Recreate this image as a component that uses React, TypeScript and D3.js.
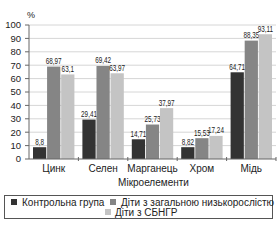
import React from "react";
import * as d3 from "d3";

const categories = ["Цинк", "Селен", "Марганець", "Хром", "Мідь"];
const seriesNames = ["Контрольна група", "Діти з загальною низькорослістю", "Діти з СБНГР"];
const control = [8.8, 29.41, 14.71, 8.82, 64.71];
const general = [68.97, 69.42, 25.73, 15.53, 88.35];
const sbngr = [63.1, 63.97, 37.97, 17.24, 93.11];
const yTicks = [0, 10, 20, 30, 40, 50, 60, 70, 80, 90, 100];
const colors = ["#333333", "#858585", "#c4c4c4"];

const fmt = (v: number) => String(v).replace(".", ",");

export default function App() {
  const W = 280, H = 240;
  const left = 29, right = 276, top = 25, bottom = 159;
  const x = d3.scaleBand<string>().domain(categories).range([left, right]).paddingInner(0).paddingOuter(0);
  const y = d3.scaleLinear().domain([0, 100]).range([bottom, top]);
  const series = [control, general, sbngr];
  const inner = d3.scaleBand<number>().domain([0, 1, 2]).range([4, x.bandwidth() - 4]).paddingInner(0.06);
  const font = "'Liberation Sans', Arial, sans-serif";
  return (
    <svg width={W} height={H} style={{ position: "absolute", left: 0, top: 0, background: "#fff" }} fontFamily={font}>
      <rect x={0} y={0} width={W} height={H} fill="#fff" />
      {yTicks.map((t) => (
        <g key={t}>
          {t > 0 && <line x1={left} x2={right} y1={y(t)} y2={y(t)} stroke="#d6d6d6" strokeWidth={1} />}
          <line x1={left - 4} x2={left} y1={y(t)} y2={y(t)} stroke="#666" />
          <text x={left - 8} y={y(t)} dy="0.35em" textAnchor="end" fontSize={9.5} fill="#222">{t}</text>
        </g>
      ))}
      <text x={left - 2} y={top - 7} fontSize={9} fill="#222">%</text>
      {categories.map((c, i) => (
        <g key={c}>
          {series.map((s, j) => {
            const bx = (x(c) as number) + (inner(j) as number);
            const bw = inner.bandwidth();
            return (
              <g key={j}>
                <rect x={bx} y={y(s[i])} width={bw} height={bottom - y(s[i])} fill={colors[j]} />
                <text transform={`translate(${bx + bw / 2},${y(s[i]) - 2.5}) scale(0.72,1)`} textAnchor="middle" fontSize={8.8} fill="#222">{fmt(s[i])}</text>
              </g>
            );
          })}
          <text x={(x(c) as number) + x.bandwidth() / 2} y={bottom + 13} textAnchor="middle" fontSize={10} fill="#222">{c}</text>
        </g>
      ))}
      <line x1={left} x2={left} y1={top} y2={bottom} stroke="#666" />
      <line x1={left} x2={right} y1={bottom} y2={bottom} stroke="#666" />
      {categories.map((c, i) => {
        const bx = x(c) as number;
        return i > 0 ? <line key={c} x1={bx} x2={bx} y1={bottom - 2} y2={bottom + 2} stroke="#666" /> : null;
      })}
      <line x1={right} x2={right} y1={bottom - 2} y2={bottom + 2} stroke="#666" />
      <text x={(left + right) / 2 + 1} y={bottom + 27} textAnchor="middle" fontSize={10} fill="#222">Мікроелементи</text>
      <rect x={4.5} y={195.5} width={268} height={23} fill="#fff" stroke="#555" />
      <rect x={11} y={199} width={6} height={6} fill={colors[0]} />
      <text x={22} y={205.5} fontSize={10} fill="#222">{seriesNames[0]}</text>
      <rect x={110} y={199} width={6} height={6} fill={colors[1]} />
      <text x={121} y={205.5} fontSize={10} fill="#222">{seriesNames[1]}</text>
      <rect x={105} y={209} width={6} height={6} fill={colors[2]} />
      <text x={115} y={215.5} fontSize={10} fill="#222">{seriesNames[2]}</text>
    </svg>
  );
}
